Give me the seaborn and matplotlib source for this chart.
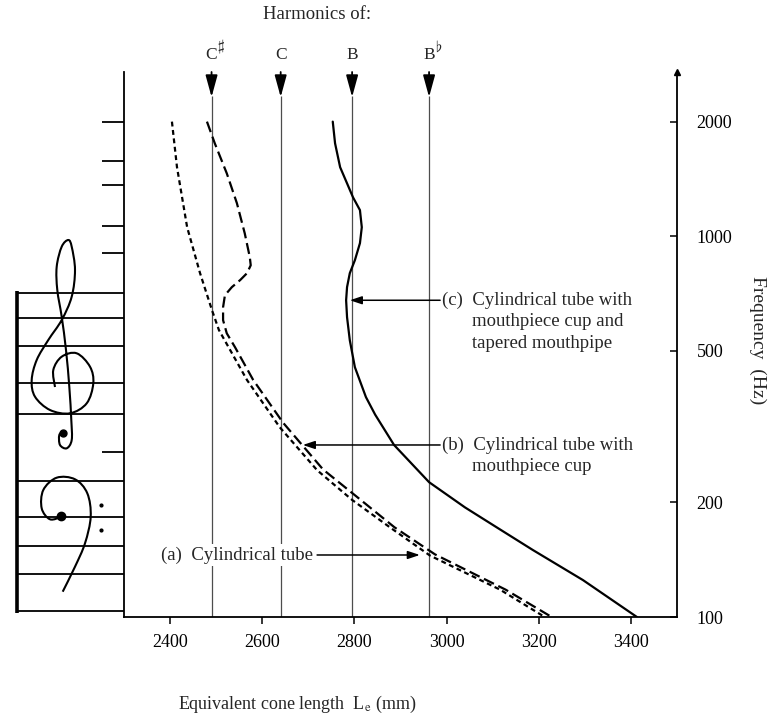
import numpy as np
import pandas as pd
import matplotlib
matplotlib.use("Agg")
import matplotlib.pyplot as plt
import matplotlib.transforms as mtransforms
from matplotlib.path import Path
from matplotlib.patches import PathPatch
from matplotlib.lines import Line2D
from matplotlib.ticker import NullLocator
import seaborn as sns

# Harmonic series reference lengths (mm)
harmonic_notes = ["C", "C", "B", "B"]
harmonic_accidentals = [r"$\sharp$", "", "", r"$\flat$"]
harmonic_lengths = [2490, 2640, 2795, 2962]

# (a) cylindrical tube
freq_a = [2000, 1518, 1056, 800, 639, 567, 419, 315, 243, 203, 172, 145, 118, 100]
len_a = [2404, 2415, 2437, 2465, 2491, 2506, 2567, 2638, 2719, 2795, 2877, 2964, 3116, 3213]

# (b) cylindrical tube with mouthpiece cup
freq_b = [2000, 1754, 1463, 1221, 1018, 881, 839, 800, 767, 735, 700, 651, 602, 556,
          511, 420, 324, 244, 207, 172, 146, 118, 100]
len_b = [2480, 2497, 2523, 2545, 2562, 2573, 2575, 2567, 2552, 2534, 2519, 2515, 2515, 2523,
         2541, 2580, 2645, 2732, 2805, 2887, 2975, 3128, 3228]

# (c) cylindrical tube with mouthpiece cup and tapered mouthpipe
freq_c = [2000, 1754, 1518, 1377, 1265, 1171, 1056, 959, 865, 800, 735, 679, 613, 533,
          453, 378, 340, 283, 226, 194, 171, 150, 125, 100]
len_c = [2753, 2758, 2769, 2784, 2797, 2812, 2816, 2812, 2801, 2790, 2784, 2782, 2784, 2790,
         2801, 2825, 2845, 2886, 2962, 3040, 3112, 3187, 3296, 3413]

# Staff lines (treble and bass) and ledger ticks on the frequency scale (Hz)
staff_lines_hz = [708, 609, 514, 411, 341, 228, 183, 154, 130, 104]
ledger_ticks_hz = [2000, 1574, 1361, 1062, 902, 271]

freq_ticks = [100, 200, 500, 1000, 2000]
length_ticks = [2400, 2600, 2800, 3000, 3200, 3400]

sns.set_theme(style="white")
plt.rcParams["font.family"] = ["Liberation Serif", "DejaVu Serif"]
plt.rcParams["mathtext.fontset"] = "stix"

W, H = 771, 715
fig = plt.figure(figsize=(W / 100, H / 100), dpi=100)
ax = fig.add_axes([124 / W, 1 - 617 / H, 553 / W, 545 / H])
ax.set_yscale("log")

curves = pd.concat([
    pd.DataFrame({"length": len_a, "freq": freq_a, "curve": "a"}),
    pd.DataFrame({"length": len_b, "freq": freq_b, "curve": "b"}),
    pd.DataFrame({"length": len_c, "freq": freq_c, "curve": "c"}),
])
styles = {"a": (0, (2.2, 1.6)), "b": (0, (5.0, 2.2)), "c": "-"}
for key, sub in curves.groupby("curve"):
    sns.lineplot(data=sub, x="length", y="freq", sort=False, estimator=None,
                 color="black", lw=1.6, linestyle=styles[key], legend=False, ax=ax)

ax.set_xlim(2300, 3500)
ax.set_ylim(100, 2700)

# Harmonic reference lines with arrows and note names
xt = ax.get_xaxis_transform()
ax.vlines(harmonic_lengths, 0, 0.956, transform=xt, color="0.3", lw=0.9, zorder=1)
for note, acc, x in zip(harmonic_notes, harmonic_accidentals, harmonic_lengths):
    ax.annotate("", xy=(x, 0.954), xytext=(x, 1.0), xycoords=xt, textcoords=xt,
                arrowprops=dict(arrowstyle="-|>,head_length=0.95,head_width=0.26",
                                mutation_scale=14, color="black", lw=1.3,
                                shrinkA=0, shrinkB=0), annotation_clip=False)
    ax.text(x, 1.031, note, transform=xt, ha="center", va="center", fontsize=12.5)
    if acc:
        ax.annotate(acc, xy=(x, 1.031), xycoords=xt, xytext=(7, 6),
                    textcoords="offset points", ha="center", va="center",
                    fontsize=11, annotation_clip=False)
ax.text(0.35, 1.105, "Harmonics of:", transform=ax.transAxes, ha="center",
        va="center", fontsize=13.5)

# Curve annotations
fs = 13.5
arrow_kw = dict(arrowstyle="-|>,head_length=0.6,head_width=0.2", mutation_scale=12,
                color="black", lw=1.1, shrinkA=0, shrinkB=0)
ax.annotate("", xy=(2790, 679), xytext=(2986, 679), arrowprops=arrow_kw)
ax.text(2990, 679, "(c)  Cylindrical tube with", ha="left", va="center", fontsize=fs)
ax.annotate("mouthpiece cup and", xy=(2990, 679), xytext=(21.5, -15.5),
            textcoords="offset points", ha="left", va="center", fontsize=fs)
ax.annotate("tapered mouthpipe", xy=(2990, 679), xytext=(21.5, -31),
            textcoords="offset points", ha="left", va="center", fontsize=fs)

ax.annotate("", xy=(2688, 283), xytext=(2986, 283), arrowprops=arrow_kw)
ax.text(2990, 283, "(b)  Cylindrical tube with", ha="left", va="center", fontsize=fs)
ax.annotate("mouthpiece cup", xy=(2990, 283), xytext=(21.5, -15.5),
            textcoords="offset points", ha="left", va="center", fontsize=fs)

ax.annotate("", xy=(2942, 145.5), xytext=(2719, 145.5), arrowprops=arrow_kw)
ax.text(2710, 145.5, "(a)  Cylindrical tube", ha="right", va="center", fontsize=fs,
        zorder=3, bbox=dict(boxstyle="square,pad=0.15", fc="white", ec="none"))

# Axes styling
ax.spines["top"].set_visible(False)
for s in ("left", "right", "bottom"):
    ax.spines[s].set_color("black")
    ax.spines[s].set_linewidth(1.3)
ax.plot([1], [1], marker="^", ms=4, color="black", transform=ax.transAxes, clip_on=False)

ax.yaxis.tick_right()
ax.set_yticks(freq_ticks)
ax.set_yticklabels([str(f) for f in freq_ticks])
ax.yaxis.set_minor_locator(NullLocator())
ax.tick_params(axis="y", which="major", direction="in", length=5, width=1.1,
               pad=14, labelsize=13, right=True, left=False, colors="black")
ax.set_xticks(length_ticks)
ax.set_xticklabels([str(v) for v in length_ticks])
ax.tick_params(axis="x", direction="out", length=5, width=1.1, pad=7,
               labelsize=13, bottom=True, colors="black")

ax.yaxis.set_label_position("right")
ax.set_ylabel("Frequency  (Hz)", rotation=270, fontsize=14, ha="center", va="center")
ax.yaxis.set_label_coords(1.145, 0.508)
ax.set_xlabel(r"Equivalent cone length  L$_{\rm e}$ (mm)", fontsize=13)
ax.xaxis.set_label_coords(0.313, -0.141)

# Music staff drawn against the frequency scale
yt = ax.get_yaxis_transform()
ax.hlines(staff_lines_hz, -0.194, 0.0, transform=yt, color="black", lw=1.3, clip_on=False)
ax.hlines(ledger_ticks_hz, -0.04, 0.0, transform=yt, color="black", lw=1.3, clip_on=False)
ax.vlines([-0.194], min(staff_lines_hz) * 0.985, max(staff_lines_hz) * 1.015,
          transform=yt, color="black", lw=2.6, clip_on=False)

# Clef outlines in pixel space
pix = mtransforms.Affine2D().scale(1 / W, -1 / H).translate(0, 1) + fig.transFigure


def smooth_path(pts):
    p = np.asarray(pts, float)
    ext = np.vstack([p[0], p, p[-1]])
    verts, codes = [p[0]], [Path.MOVETO]
    for i in range(1, len(ext) - 2):
        p0, p1, p2, p3 = ext[i - 1], ext[i], ext[i + 1], ext[i + 2]
        verts += [p1 + (p2 - p0) / 6, p2 - (p3 - p1) / 6, p2]
        codes += [Path.CURVE4] * 3
    return Path(verts, codes)


treble = [(55, 387), (53.3, 370), (61.7, 356.7), (76.7, 353.3), (90, 366.7), (93.3, 383.3),
          (86.7, 403.3), (70, 413.3), (50, 410), (35, 396.7), (31.7, 380), (36.7, 360),
          (48.3, 340), (61.7, 320), (71.7, 296.7), (75, 270), (71.7, 246.7), (68.3, 240),
          (61.7, 246.7), (56.7, 266.7), (57.3, 290), (61.7, 316.7), (66, 350), (69.3, 386.7),
          (71.3, 420), (71.7, 440), (66.7, 448.3), (60, 445), (59.3, 435), (63.3, 431.7)]
bass = [(61.7, 516.7), (50, 519.3), (41.7, 508.3), (43.3, 490), (56.7, 477.7), (75, 479.3),
        (87.3, 493.3), (90.7, 516.7), (85, 543.3), (75, 566.7), (62.7, 591.7)]
for pts in (treble, bass):
    fig.add_artist(PathPatch(smooth_path(pts), transform=pix, fill=False,
                             edgecolor="black", lw=1.5))
fig.add_artist(Line2D([63], [433], marker="o", ms=5, color="black", transform=pix))
fig.add_artist(Line2D([61], [516], marker="o", ms=6, color="black", transform=pix))
fig.add_artist(Line2D([100.7, 100.7], [505, 530], marker="o", ms=2, lw=0,
                      color="black", transform=pix))

fig.savefig("out.png", dpi=100, facecolor="white")
